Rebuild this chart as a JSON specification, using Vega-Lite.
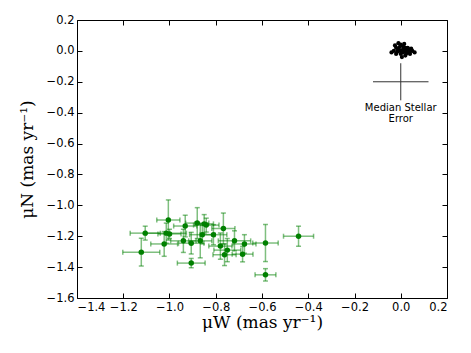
{
  "$schema": "https://vega.github.io/schema/vega-lite/v6.json",
  "autosize": "none",
  "width": 370,
  "height": 278,
  "padding": {"left": 77, "top": 20, "right": 24, "bottom": 55},
  "background": "white",
  "config": {
    "view": {"stroke": "#000", "strokeWidth": 1},
    "axis": {"grid": false, "domain": false, "tickColor": "#000", "tickSize": -5, "labelFont": "DejaVu Sans", "labelFontSize": 11.5, "labelColor": "#000", "titleFont": "DejaVu Serif", "titleFontSize": 17, "titleFontWeight": "normal", "titleColor": "#000"}
  },
  "datasets": {
    "green": [
      {"x": -1.005, "y": -1.095, "ex": 0.05, "ey": 0.13},
      {"x": -1.105, "y": -1.18, "ex": 0.065, "ey": 0.045},
      {"x": -1.122, "y": -1.303, "ex": 0.08, "ey": 0.09},
      {"x": -1.023, "y": -1.25, "ex": 0.058, "ey": 0.08},
      {"x": -1.014, "y": -1.18, "ex": 0.087, "ey": 0.065},
      {"x": -1.0, "y": -1.185, "ex": 0.05, "ey": 0.03},
      {"x": -0.932, "y": -1.134, "ex": 0.05, "ey": 0.07},
      {"x": -0.88, "y": -1.115, "ex": 0.05, "ey": 0.1},
      {"x": -0.841, "y": -1.128, "ex": 0.055, "ey": 0.045},
      {"x": -0.85, "y": -1.12, "ex": 0.04, "ey": 0.06},
      {"x": -0.767, "y": -1.15, "ex": 0.05, "ey": 0.1},
      {"x": -0.858, "y": -1.19, "ex": 0.055, "ey": 0.06},
      {"x": -0.81, "y": -1.19, "ex": 0.058, "ey": 0.065},
      {"x": -0.94, "y": -1.23, "ex": 0.055, "ey": 0.075},
      {"x": -0.906, "y": -1.245, "ex": 0.055, "ey": 0.07},
      {"x": -0.867, "y": -1.23, "ex": 0.05, "ey": 0.11},
      {"x": -0.906, "y": -1.374, "ex": 0.06, "ey": 0.03},
      {"x": -0.78, "y": -1.264, "ex": 0.05, "ey": 0.085},
      {"x": -0.75, "y": -1.29, "ex": 0.058, "ey": 0.075},
      {"x": -0.719, "y": -1.23, "ex": 0.07, "ey": 0.065},
      {"x": -0.762, "y": -1.32, "ex": 0.05, "ey": 0.07},
      {"x": -0.684, "y": -1.316, "ex": 0.045, "ey": 0.05},
      {"x": -0.676, "y": -1.25, "ex": 0.05, "ey": 0.06},
      {"x": -0.585, "y": -1.244, "ex": 0.055, "ey": 0.12},
      {"x": -0.442, "y": -1.2, "ex": 0.065, "ey": 0.065},
      {"x": -0.585, "y": -1.45, "ex": 0.045, "ey": 0.04}
    ],
    "black": [
      {"x": -0.04, "y": -0.01}, {"x": -0.03, "y": 0.0}, {"x": -0.02, "y": -0.02}, {"x": -0.02, "y": 0.02},
      {"x": -0.01, "y": 0.05}, {"x": -0.01, "y": 0.01}, {"x": 0.0, "y": 0.04}, {"x": 0.0, "y": 0.0},
      {"x": 0.0, "y": -0.02}, {"x": 0.01, "y": 0.03}, {"x": 0.01, "y": 0.01}, {"x": 0.01, "y": -0.01},
      {"x": 0.02, "y": 0.02}, {"x": 0.02, "y": 0.0}, {"x": 0.02, "y": -0.03}, {"x": 0.03, "y": 0.02},
      {"x": 0.03, "y": 0.0}, {"x": 0.03, "y": -0.01}, {"x": 0.04, "y": 0.0}, {"x": 0.04, "y": -0.02},
      {"x": 0.05, "y": 0.0}, {"x": 0.06, "y": -0.01}, {"x": -0.025, "y": 0.035}, {"x": 0.015, "y": 0.045},
      {"x": 0.005, "y": -0.04}, {"x": 0.035, "y": 0.01}, {"x": -0.015, "y": -0.005}, {"x": 0.025, "y": -0.015},
      {"x": 0.045, "y": 0.015}, {"x": -0.005, "y": 0.025}
    ],
    "median": [{"x": 0.0, "y": -0.2, "ex": 0.12, "ey": 0.12}],
    "note": [{"x": 0.0, "y": -0.335, "label": "Median Stellar\nError"}]
  },
  "resolve": {"axis": {"x": "independent", "y": "independent"}},
  "layer": [
    {
      "data": {"name": "green"},
      "mark": {"type": "errorbar", "ticks": true, "color": "#008000", "opacity": 0.5, "thickness": 1.5},
      "encoding": {
        "x": {"field": "x", "type": "quantitative", "scale": {"domain": [-1.4, 0.2], "nice": false, "zero": false},
          "axis": {"orient": "bottom", "values": [-1.4,-1.2,-1.0,-0.8,-0.6,-0.4,-0.2,0.0,0.2], "labelExpr": "replace(format(datum.value, '.1f'), '-', '−')", "labelPadding": 8, "title": "μW (mas yr⁻¹)", "titlePadding": 2}},
        "xError": {"field": "ex"},
        "y": {"field": "y", "type": "quantitative", "scale": {"domain": [-1.6, 0.2], "nice": false, "zero": false},
          "axis": {"orient": "left", "values": [-1.6,-1.4,-1.2,-1.0,-0.8,-0.6,-0.4,-0.2,0.0,0.2], "labelExpr": "replace(format(datum.value, '.1f'), '-', '−')", "labelPadding": 8, "title": "μN (mas yr⁻¹)", "titlePadding": 10}}
      }
    },
    {
      "data": {"name": "green"},
      "mark": {"type": "errorbar", "ticks": true, "color": "#008000", "opacity": 0.5, "thickness": 1.5},
      "encoding": {
        "x": {"field": "x", "type": "quantitative", "axis": {"orient": "top", "values": [-1.4,-1.2,-1.0,-0.8,-0.6,-0.4,-0.2,0.0,0.2], "labels": false, "title": null}},
        "y": {"field": "y", "type": "quantitative", "axis": {"orient": "right", "values": [-1.6,-1.4,-1.2,-1.0,-0.8,-0.6,-0.4,-0.2,0.0,0.2], "labels": false, "title": null}},
        "yError": {"field": "ey"}
      }
    },
    {
      "data": {"name": "green"},
      "mark": {"type": "circle", "color": "#008000", "opacity": 1, "size": 30},
      "encoding": {
        "x": {"field": "x", "type": "quantitative", "axis": null},
        "y": {"field": "y", "type": "quantitative", "axis": null}
      }
    },
    {
      "data": {"name": "black"},
      "mark": {"type": "circle", "color": "#000", "opacity": 1, "size": 18},
      "encoding": {
        "x": {"field": "x", "type": "quantitative", "axis": null},
        "y": {"field": "y", "type": "quantitative", "axis": null}
      }
    },
    {
      "data": {"name": "median"},
      "mark": {"type": "errorbar", "color": "#333", "thickness": 1},
      "encoding": {
        "x": {"field": "x", "type": "quantitative", "axis": null},
        "xError": {"field": "ex"},
        "y": {"field": "y", "type": "quantitative", "axis": null}
      }
    },
    {
      "data": {"name": "median"},
      "mark": {"type": "errorbar", "color": "#333", "thickness": 1},
      "encoding": {
        "x": {"field": "x", "type": "quantitative", "axis": null},
        "y": {"field": "y", "type": "quantitative", "axis": null},
        "yError": {"field": "ey"}
      }
    },
    {
      "data": {"name": "note"},
      "mark": {"type": "text", "font": "DejaVu Sans", "fontSize": 10, "color": "#000", "align": "center", "baseline": "top", "lineBreak": "\n", "lineHeight": 11},
      "encoding": {
        "x": {"field": "x", "type": "quantitative", "axis": null},
        "y": {"field": "y", "type": "quantitative", "axis": null},
        "text": {"field": "label"}
      }
    }
  ]
}
